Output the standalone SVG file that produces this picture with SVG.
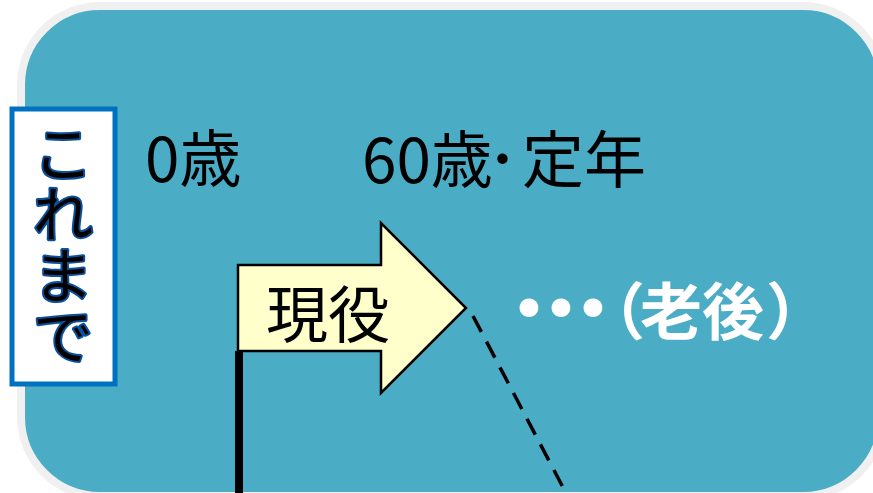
<svg xmlns="http://www.w3.org/2000/svg" width="873" height="493" viewBox="0 0 873 493">
<style>
.jp{font-family:"Noto Sans CJK JP","Noto Sans",sans-serif;}
.lbl{font-size:62px;fill:#000;}
.old{font-size:62px;fill:#fff;font-weight:bold;}
.dots{font-size:96px;}
.vert{font-size:60px;fill:#000;stroke:#0c4f9a;stroke-width:4px;paint-order:stroke;stroke-linejoin:round;text-anchor:middle;}
</style>
<rect width="873" height="493" fill="#ffffff"/>
<g id="panel">
<rect x="21" y="6" width="861" height="490" rx="79" ry="79" fill="#4bacc6" stroke="#f0f0f0" stroke-width="8"/>
</g>
<g id="labels">
<text class="jp lbl" x="145" y="182">0歳</text>
<text class="jp lbl" y="183"><tspan x="362">60歳</tspan><tspan x="487">･</tspan><tspan x="522">定年</tspan></text>
</g>
<g id="connectors">
<line x1="239" y1="351" x2="239" y2="493" stroke="#000" stroke-width="8"/>
<line x1="473" y1="316" x2="567" y2="495" stroke="#000" stroke-width="3.5" stroke-dasharray="18 11"/>
</g>
<g id="genneki">
<path d="M238,265 L381,265 L381,223 L466,308 L381,393 L381,351 L238,351 Z" fill="#ffffcc" stroke="#000" stroke-width="2.5" stroke-linejoin="miter"/>
<text class="jp lbl" x="266" y="338">現役</text>
</g>
<g id="rougo">
<text class="jp old"><tspan class="dots" x="505 537 569" y="344">･･･</tspan><tspan x="583 640 702 766" y="335">（老後）</tspan></text>
</g>
<g id="koremade">
<rect x="12" y="109" width="103" height="275" fill="#ffffff" stroke="#0070c0" stroke-width="5"/>
<text class="jp vert" x="63 63 63 63" y="176 237 298 359">これまで</text>
</g>
</svg>
